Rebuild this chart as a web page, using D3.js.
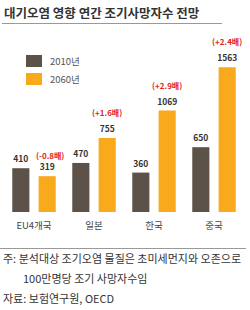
<!DOCTYPE html>
<html>
<head>
<meta charset="utf-8">
<script src="https://cdn.jsdelivr.net/npm/d3@7"></script>
<style>
  body { margin: 0; background: #fff; }
  text { font-family: "Noto Sans CJK KR", sans-serif; }
</style>
</head>
<body>
<script>
const W = 250, H = 310;

// data
const categories = ["EU4개국", "일본", "한국", "중국"];
const seriesNames = ["2010년", "2060년"];
const values2010 = [410, 470, 360, 650];
const values2060 = [319, 755, 1069, 1563];
const ratioLabels = ["(-0.8배)", "(+1.6배)", "(+2.9배)", "(+2.4배)"];
const notes = ["주: 분석대상 조기오염 물질은 초미세먼지와 오존으로", "100만명당 조기 사망자수임", "자료: 보험연구원, OECD"];

const colors = ["#5c5249", "#f9aa1c"];

const svg = d3.select("body").append("svg")
  .attr("width", W).attr("height", H);

// title
svg.append("text")
  .attr("x", 4).attr("y", 18)
  .attr("font-size", 12.5).attr("font-weight", "bold")
  .attr("fill", "#333")
  .text("대기오염 영향 연간 조기사망자수 전망");
svg.append("line")
  .attr("x1", 2).attr("x2", 222).attr("y1", 23.5).attr("y2", 23.5)
  .attr("stroke", "#999").attr("stroke-width", 1);

// scales
const x0 = d3.scaleBand().domain(categories).range([4, 244]).paddingInner(0.1).paddingOuter(0.05);
const x1 = d3.scaleBand().domain(seriesNames).range([0, x0.bandwidth()]).paddingInner(0.35).paddingOuter(0.2);
const y = d3.scaleLinear().domain([-90, 1600]).range([212, 64]);

const rows = categories.map((c, i) => ({
  cat: c,
  vals: [values2010[i], values2060[i]],
  ratio: ratioLabels[i]
}));

const g = svg.append("g");
const grp = g.selectAll("g.cat").data(rows).enter().append("g")
  .attr("transform", d => `translate(${x0(d.cat)},0)`);

grp.selectAll("rect").data(d => d.vals.map((v, k) => ({v, k})))
  .enter().append("rect")
  .attr("x", d => x1(seriesNames[d.k]))
  .attr("width", x1.bandwidth())
  .attr("y", d => y(d.v))
  .attr("height", d => y(y.domain()[0]) - y(d.v))
  .attr("fill", d => colors[d.k]);

grp.selectAll("text.val").data(d => d.vals.map((v, k) => ({v, k})))
  .enter().append("text")
  .attr("class", "val")
  .attr("x", d => x1(seriesNames[d.k]) + x1.bandwidth() / 2)
  .attr("y", d => y(d.v) - 6)
  .attr("text-anchor", "middle")
  .attr("font-size", 8.5).attr("font-weight", "bold")
  .attr("fill", "#333")
  .text(d => d.v);

// ratio labels; when 2060 < 2010 the label sits beside the 2010 value
grp.append("text")
  .attr("x", d => x1(seriesNames[1]) + x1.bandwidth() / 2 + (d.vals[1] < d.vals[0] ? 3 : 0))
  .attr("y", d => d.vals[1] < d.vals[0] ? y(d.vals[0]) - 9 : y(d.vals[1]) - 22)
  .attr("text-anchor", "middle")
  .attr("font-size", 8).attr("font-weight", "bold")
  .attr("fill", "#e2231a")
  .text(d => d.ratio);

grp.append("text")
  .attr("x", x0.bandwidth() / 2)
  .attr("y", 229)
  .attr("text-anchor", "middle")
  .attr("font-size", 9.5)
  .attr("fill", "#444")
  .text(d => d.cat);

// legend
const leg = svg.append("g").selectAll("g").data(seriesNames).enter().append("g")
  .attr("transform", (d, i) => `translate(26,${55 + i * 18})`);
leg.append("rect").attr("width", 16).attr("height", 12).attr("fill", (d, i) => colors[i]);
leg.append("text").attr("x", 24).attr("y", 10)
  .attr("font-size", 9.5).attr("fill", "#555").text(d => d);

// footer
svg.append("line")
  .attr("x1", 0).attr("x2", 246).attr("y1", 248.5).attr("y2", 248.5)
  .attr("stroke", "#999").attr("stroke-width", 1);
const noteX = [3, 23, 3];
const noteY = [263, 283, 303];
svg.selectAll("text.note").data(notes).enter().append("text")
  .attr("class", "note")
  .attr("x", (d, i) => noteX[i]).attr("y", (d, i) => noteY[i])
  .attr("font-size", 11).attr("fill", "#333")
  .text(d => d);
</script>
</body>
</html>
